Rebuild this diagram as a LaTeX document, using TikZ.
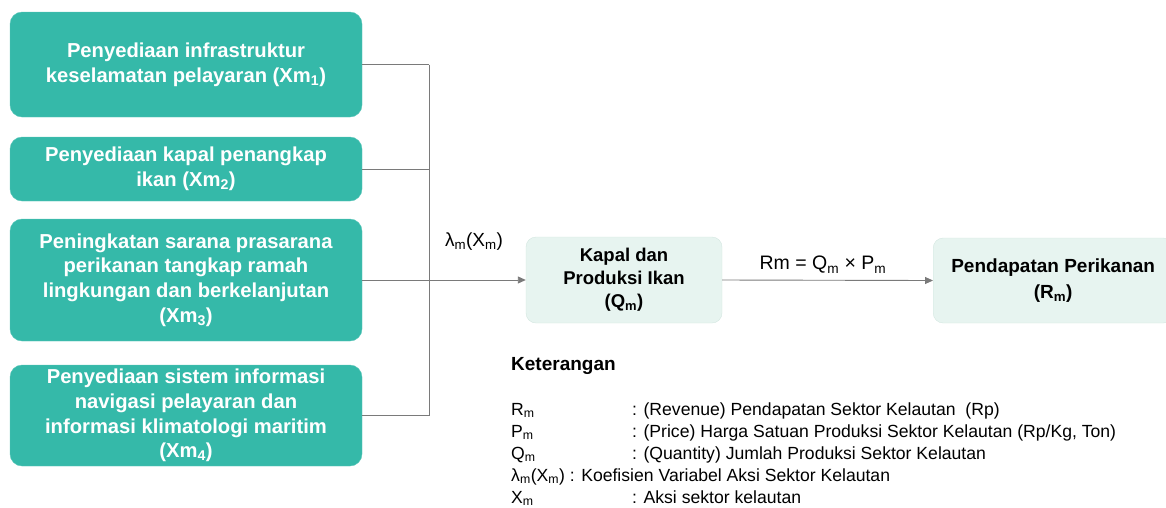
\documentclass[tikz,border=0pt]{standalone}
\usepackage{fontspec}
\setmainfont{Liberation Sans}
\usetikzlibrary{arrows.meta}
\definecolor{teal1}{HTML}{35B9A9}
\definecolor{lightbox}{HTML}{E7F4F0}
\definecolor{lightborder}{HTML}{D3E6E0}
\definecolor{linegray}{HTML}{7A7A7A}
\tikzset{
  actbox/.style={fill=teal1, draw=teal1!80!white, rounded corners=12pt, text=white, font=\bfseries\fontsize{20.2}{24.6}\selectfont, align=center, minimum width=352pt, inner sep=0pt},
  resbox/.style={fill=lightbox, draw=lightborder, rounded corners=10pt, text=black, font=\bfseries\fontsize{18.5}{23}\selectfont, align=center, inner sep=0pt},
  conn/.style={draw=linegray, line width=0.9pt},
  arr/.style={conn, -{Triangle[length=8pt,width=7pt]}, color=linegray},
  lbl/.style={font=\fontsize{17.6}{20}\selectfont, anchor=base west, inner sep=0pt},
}
\begin{document}
\begin{tikzpicture}[x=1pt,y=1pt]
\useasboundingbox (0,0) rectangle (1166,-507);
\node[actbox, minimum height=105pt] (b1) at (186,-64.5) {Penyediaan infrastruktur\\keselamatan pelayaran (Xm\textsubscript{1})};
\node[actbox, minimum height=64pt] (b2) at (186,-169) {Penyediaan kapal penangkap\\ikan (Xm\textsubscript{2})};
\node[actbox, minimum height=122pt] (b3) at (186,-280) {Peningkatan sarana prasarana\\perikanan tangkap ramah\\lingkungan dan berkelanjutan\\(Xm\textsubscript{3})};
\node[actbox, minimum height=101pt] (b4) at (186,-415.5) {Penyediaan sistem informasi\\navigasi pelayaran dan\\informasi klimatologi maritim\\(Xm\textsubscript{4})};
\node[resbox, minimum width=196pt, minimum height=86pt] (kap) at (624,-280) {Kapal dan\\Produksi Ikan\\(Q\textsubscript{m})};
\node[resbox, minimum width=240pt, minimum height=85pt, anchor=west, font=\bfseries\fontsize{19}{26}\selectfont] (pen) at (933,-280.5) {Pendapatan Perikanan\\(R\textsubscript{m})};
\coordinate (jx) at (429,0);
\coordinate (j1) at (b1.east -| jx);
\coordinate (j2) at (b2.east -| jx);
\coordinate (j4) at (b4.east -| jx);
\draw[conn] (b1.east) -- (j1);
\draw[conn] (b2.east) -- (j2);
\draw[conn] (b4.east) -- (j4);
\draw[conn] (j1) -- (j4);
\draw[arr] (b3.east) -- (kap.west);
\draw[arr] (kap.east) -- (pen.west);
\node[font=\fontsize{19}{20}\selectfont, inner sep=0pt] (lam) at (474,-242) {λ\textsubscript{m}(X\textsubscript{m})};
\node[font=\fontsize{19.5}{20}\selectfont, inner sep=0pt] (eq) at (823,-265) {Rm = Q\textsubscript{m} × P\textsubscript{m}};
\node[lbl, font=\bfseries\fontsize{19}{20}\selectfont] (ket) at (511,-370) {Keterangan};
\node[lbl] (l1a) at (511,-415) {R\textsubscript{m}};
\node[lbl] (l1b) at (632,-415) {: (Revenue) Pendapatan Sektor Kelautan~~(Rp)};
\node[lbl] (l2a) at (511,-437) {P\textsubscript{m}};
\node[lbl] (l2b) at (632,-437) {: (Price) Harga Satuan Produksi Sektor Kelautan (Rp/Kg, Ton)};
\node[lbl] (l3a) at (511,-459) {Q\textsubscript{m}};
\node[lbl] (l3b) at (632,-459) {: (Quantity) Jumlah Produksi Sektor Kelautan};
\node[lbl] (l4a) at (511,-481) {λ\textsubscript{m}(X\textsubscript{m}) : Koefisien Variabel Aksi Sektor Kelautan};
\node[lbl] (l5a) at (511,-503) {X\textsubscript{m}};
\node[lbl] (l5b) at (632,-503) {: Aksi sektor kelautan};
\end{tikzpicture}
\end{document}
